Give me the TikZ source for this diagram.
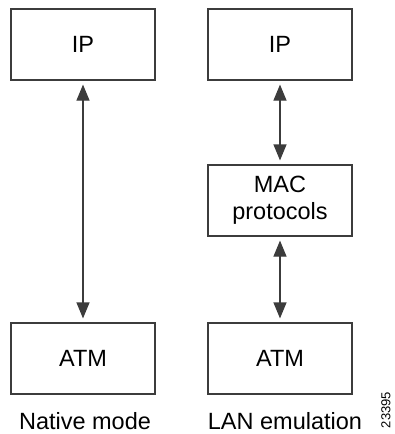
\documentclass[tikz,border=0pt]{standalone}
\usepackage{fontspec}
\setmainfont{Liberation Sans}
\usetikzlibrary{arrows.meta,positioning}
\definecolor{edge}{RGB}{60,60,60}
\tikzset{
  >={Triangle[length=16pt,width=13pt]},
  layerbox/.style={draw=edge,line width=1.2pt,minimum width=144pt,minimum height=71pt,
    align=center,font=\fontsize{23.5}{27}\selectfont,inner sep=0pt},
  link/.style={<->,line width=1.2pt,draw=edge,shorten <=4pt,shorten >=4pt},
  caption/.style={font=\fontsize{23.5}{27}\selectfont},
}
\begin{document}
\begin{tikzpicture}[x=1pt,y=1pt]
  \useasboundingbox (0,0) rectangle (394,-434);
  % native mode stack
  \node[layerbox] (ipn) at (83,-44.5) {IP};
  \node[layerbox] (atmn) at (83,-358.5) {ATM};
  \draw[link] (ipn) -- (atmn);
  \node[caption] (native) at (85,-421) {Native mode};
  % LAN emulation stack
  \node[layerbox] (ipl) at (280,-44.5) {IP};
  \node[layerbox] (mac) at (280,-200.5) {MAC\\protocols};
  \node[layerbox] (atml) at (280,-358.5) {ATM};
  \draw[link] (ipl) -- (mac);
  \draw[link] (mac) -- (atml);
  \node[caption] (lane) at (285,-421) {LAN emulation};
  \node[font=\fontsize{13}{15}\selectfont,rotate=90,inner sep=1pt] (figno) at (386,-410) {23395};
\end{tikzpicture}
\end{document}
